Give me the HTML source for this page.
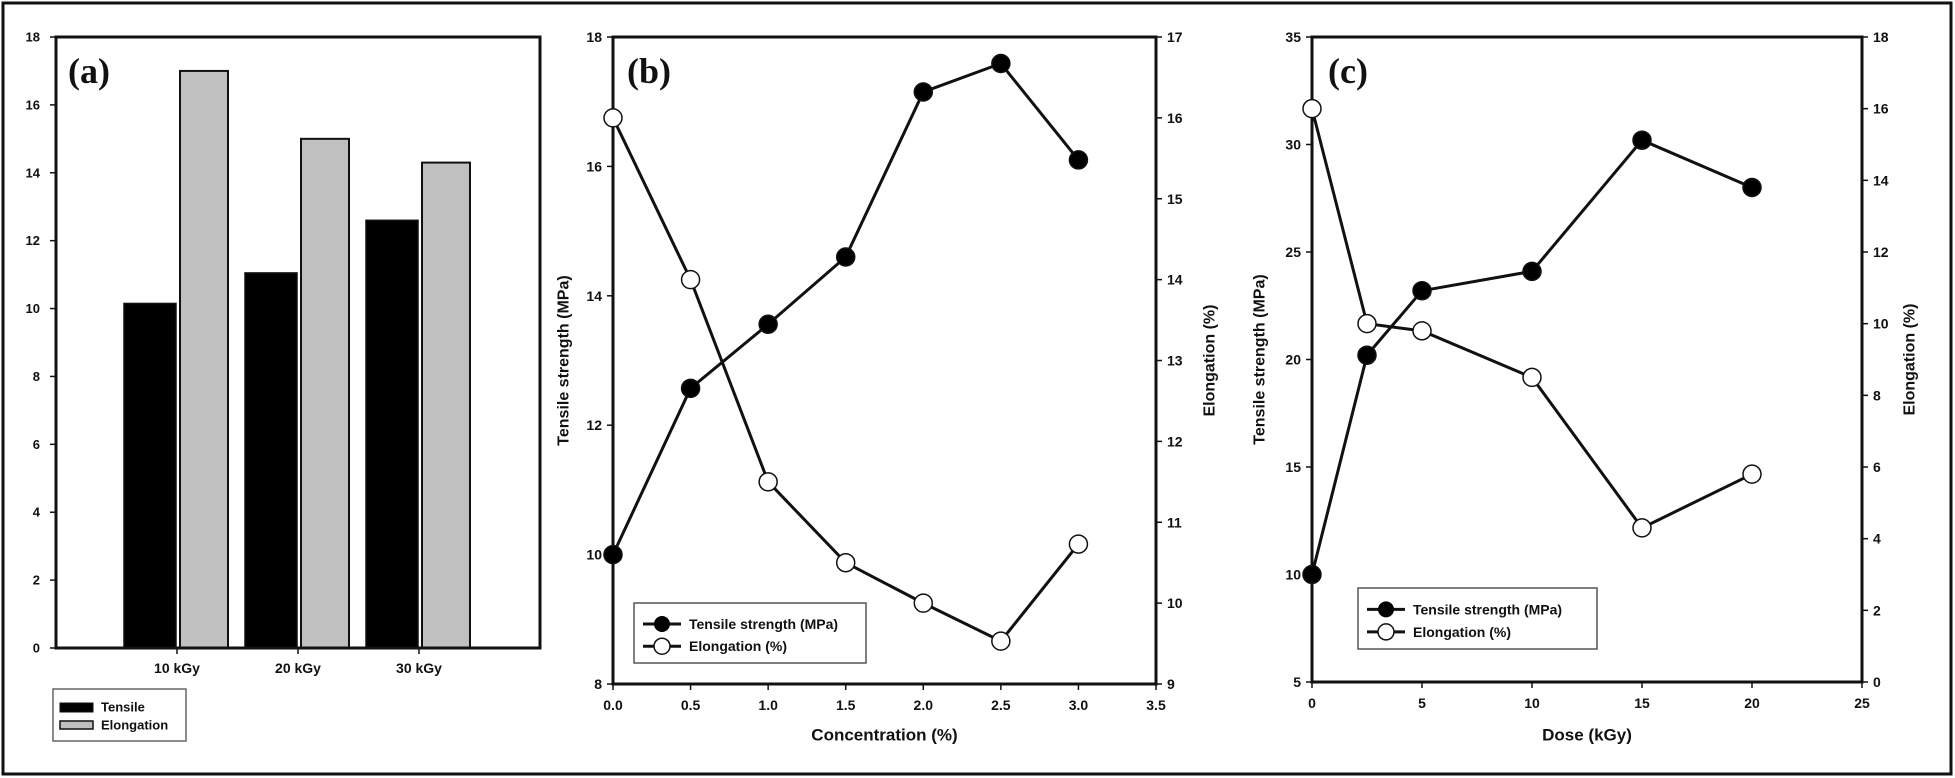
<!DOCTYPE html>
<html><head><meta charset="utf-8"><style>
html,body{margin:0;padding:0;background:#fff;}
svg{display:block;font-family:"Liberation Sans",Arial,sans-serif;}
</style></head><body>
<svg id="fig" width="1955" height="778" viewBox="0 0 1955 778" xmlns="http://www.w3.org/2000/svg">
<rect x="3" y="3" width="1948" height="771" fill="#fff" stroke="#111" stroke-width="3"/>
</svg>
<script>
// Panel (a)
const aCategories = ["10 kGy","20 kGy","30 kGy"];
const aTensile = [10.15, 11.05, 12.6];
const aElongation = [17.0, 15.0, 14.3];
const aTicks = [0,2,4,6,8,10,12,14,16,18];
// Panel (b)
const bConc = [0,0.5,1.0,1.5,2.0,2.5,3.0];
const bTensile = [10.0,12.57,13.56,14.6,17.15,17.59,16.1];
const bElong = [16.0,14.0,11.5,10.5,10.0,9.53,10.73];
const bXTicks = ["0.0","0.5","1.0","1.5","2.0","2.5","3.0","3.5"];
const bLeftTicks = [8,10,12,14,16,18];
const bRightTicks = [9,10,11,12,13,14,15,16,17];
// Panel (c)
const cDose = [0,2.5,5,10,15,20];
const cTensile = [10.0,20.2,23.2,24.1,30.2,28.0];
const cElong = [16.0,10.0,9.8,8.5,4.3,5.8];
const cXTicks = [0,5,10,15,20,25];
const cLeftTicks = [5,10,15,20,25,30,35];
const cRightTicks = [0,2,4,6,8,10,12,14,16,18];

const svg = document.getElementById('fig');
const NS = 'http://www.w3.org/2000/svg';
function mk(tag, attrs, parent){
  const e = document.createElementNS(NS, tag);
  for (const k in attrs) e.setAttribute(k, attrs[k]);
  (parent||svg).appendChild(e);
  return e;
}
function txt(s, x, y, size, anchor, parent, extra){
  const t = mk('text', Object.assign({x:x, y:y, 'font-size':size, 'font-weight':'bold', 'text-anchor':anchor||'middle', 'dominant-baseline':'central', fill:'#111'}, extra||{}), parent);
  t.textContent = s;
  return t;
}
function lin(d0,d1,r0,r1){ return v => r0 + (v-d0)*(r1-r0)/(d1-d0); }

// ---------- Panel a ----------
(function(){
  const g = mk('g',{});
  
  
  const L=56,R=540,T=37,B=648;
  const y = lin(0,18,B,T);
  const cx = i => L + 121*(i+1);
  aCategories.forEach((c,i)=>{
    const r1 = mk('rect',{x:cx(i)-53,y:y(aTensile[i]),width:52,height:B-y(aTensile[i]),fill:'#000',stroke:'#111','stroke-width':1.5},g);
    
    
    const r2 = mk('rect',{x:cx(i)+3,y:y(aElongation[i]),width:48,height:B-y(aElongation[i]),fill:'#c0c0c0',stroke:'#111','stroke-width':2},g);
    
    
    mk('line',{x1:cx(i),x2:cx(i),y1:B,y2:B+6,stroke:'#111','stroke-width':1.5},g);
    const t = txt(c, cx(i), 668, 14, 'middle', g);
    
    
  });
  mk('rect',{x:L,y:T,width:R-L,height:B-T,fill:'none',stroke:'#111','stroke-width':3},g);
  aTicks.forEach(v=>{
    mk('line',{x1:L-6,x2:L,y1:y(v),y2:y(v),stroke:'#111','stroke-width':1.5},g);
    const t = txt(String(v), L-16, y(v), 13, 'end', g);
    
    
  });
  const lab = mk('text',{x:68,y:83,'font-size':36,'font-weight':'bold','font-family':'"Liberation Serif",serif',fill:'#111'},g);
  lab.textContent='(a)';
  
  
  const lg = mk('g',{},g);
  
  
  mk('rect',{x:53,y:689,width:133,height:52,fill:'#fff',stroke:'#666','stroke-width':1.5},lg);
  mk('rect',{x:60,y:703,width:33,height:9,fill:'#000',stroke:'#111','stroke-width':1},lg);
  mk('rect',{x:60,y:721,width:33,height:8,fill:'#c0c0c0',stroke:'#111','stroke-width':1.5},lg);
  txt('Tensile',101,707,13,'start',lg);
  txt('Elongation',101,725,13,'start',lg);
})();

// ---------- dual-axis line panel ----------
function linePanel(o){
  const g = mk('g',{});
  
  
  const {L,R,T,B} = o;
  const x = lin(o.xd[0],o.xd[1],L,R);
  const yl = lin(o.yl[0],o.yl[1],B,T);
  const yr = lin(o.yr[0],o.yr[1],B,T);
  mk('rect',{x:L,y:T,width:R-L,height:B-T,fill:'none',stroke:'#111','stroke-width':3},g);
  o.xTicks.forEach(s=>{
    const v = parseFloat(s);
    mk('line',{x1:x(v),x2:x(v),y1:B,y2:B+6,stroke:'#111','stroke-width':1.5},g);
    const t = txt(String(s), x(v), B+21, 14, 'middle', g);
    
    
  });
  o.leftTicks.forEach(v=>{
    mk('line',{x1:L-6,x2:L,y1:yl(v),y2:yl(v),stroke:'#111','stroke-width':1.5},g);
    const t = txt(String(v), L-11, yl(v), 14, 'end', g);
    
    
  });
  o.rightTicks.forEach(v=>{
    mk('line',{x1:R,x2:R+6,y1:yr(v),y2:yr(v),stroke:'#111','stroke-width':1.5},g);
    const t = txt(String(v), R+11, yr(v), 14, 'start', g);
    
    
  });
  const xt = txt(o.xTitle,(L+R)/2,735,17,'middle',g);
  
  
  const my=(T+B)/2;
  const lt = txt('Tensile strength (MPa)',o.leftTitleX,my,16,'middle',g,{transform:`rotate(-90 ${o.leftTitleX} ${my})`});
  
  
  const rt = txt('Elongation (%)',o.rightTitleX,my,16,'middle',g,{transform:`rotate(-90 ${o.rightTitleX} ${my})`});
  
  
  // series
  const p1 = o.xs.map((v,i)=>x(v)+','+yl(o.tensile[i])).join(' ');
  const l1 = mk('polyline',{points:p1,fill:'none',stroke:'#111','stroke-width':3},g);
  
  
  const p2 = o.xs.map((v,i)=>x(v)+','+yr(o.elong[i])).join(' ');
  const l2 = mk('polyline',{points:p2,fill:'none',stroke:'#111','stroke-width':3},g);
  
  
  o.xs.forEach((v,i)=>{
    const c = mk('circle',{cx:x(v),cy:yl(o.tensile[i]),r:9,fill:'#000',stroke:'#111','stroke-width':1.5},g);
    
    
  });
  o.xs.forEach((v,i)=>{
    const c = mk('circle',{cx:x(v),cy:yr(o.elong[i]),r:9,fill:'#fff',stroke:'#111','stroke-width':1.5},g);
    
    
  });
  const lab = mk('text',{x:o.labelX,y:83,'font-size':36,'font-weight':'bold','font-family':'"Liberation Serif",serif',fill:'#111'},g);
  lab.textContent=o.label;
  
  
  const lg = mk('g',{},g);
  
  
  const [lx,ly,lw,lh] = o.legend;
  mk('rect',{x:lx,y:ly,width:lw,height:lh,fill:'#fff',stroke:'#555','stroke-width':1.5},lg);
  const e1=ly+lh*0.35, e2=ly+lh*0.72;
  mk('line',{x1:lx+9,x2:lx+47,y1:e1,y2:e1,stroke:'#111','stroke-width':3},lg);
  mk('circle',{cx:lx+28,cy:e1,r:8,fill:'#000'},lg);
  mk('line',{x1:lx+9,x2:lx+47,y1:e2,y2:e2,stroke:'#111','stroke-width':3},lg);
  mk('circle',{cx:lx+28,cy:e2,r:8,fill:'#fff',stroke:'#111','stroke-width':1.5},lg);
  txt('Tensile strength (MPa)',lx+55,e1,14,'start',lg);
  txt('Elongation (%)',lx+55,e2,14,'start',lg);
}

linePanel({name:'panel-b',L:613,R:1156,T:37,B:684,xd:[0,3.5],yl:[8,18],yr:[9,17],
  xTicks:bXTicks,leftTicks:bLeftTicks,rightTicks:bRightTicks,xs:bConc,tensile:bTensile,elong:bElong,
  xTitle:'Concentration (%)',leftTitleX:564,rightTitleX:1210,label:'(b)',labelX:627,legend:[634,603,232,60]});
linePanel({name:'panel-c',L:1312,R:1862,T:37,B:682,xd:[0,25],yl:[5,35],yr:[0,18],
  xTicks:cXTicks.map(String),leftTicks:cLeftTicks,rightTicks:cRightTicks,xs:cDose,tensile:cTensile,elong:cElong,
  xTitle:'Dose (kGy)',leftTitleX:1260,rightTitleX:1910,label:'(c)',labelX:1328,legend:[1358,588,239,61]});
</script>
</body></html>
